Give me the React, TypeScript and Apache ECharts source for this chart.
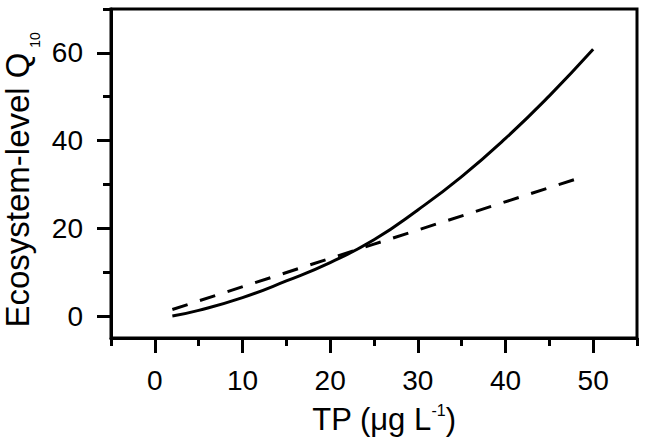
import React, { useEffect, useRef } from "react";
import * as echarts from "echarts";

const xMajorTicks = [0, 10, 20, 30, 40, 50];
const xMinorTicks = [-5, 5, 15, 25, 35, 45, 55];
const yMajorTicks = [0, 20, 40, 60];
const yMinorTicks = [10, 30, 50, 70];

const tpSolid = [2, 5, 10, 15, 20, 25, 30, 35, 40, 45, 50];
const q10Solid = [0, 1.3, 4.2, 8.0, 12.2, 17.4, 24.2, 31.8, 40.5, 50.2, 60.8];

const tpDashed = [2, 25, 48];
const q10Dashed = [1.5, 16.4, 31.2];

const FONT = "Liberation Sans, Arial, Helvetica, sans-serif";

export default function App() {
  const ref = useRef<HTMLDivElement>(null);
  useEffect(() => {
    if (!ref.current) return;
    const chart = echarts.init(ref.current, undefined, { renderer: "svg" });
    const axisLine = { show: true, onZero: false, lineStyle: { color: "#000", width: 3 } };
    const baseX = {
      type: "value" as const,
      min: -5,
      max: 55,
      splitLine: { show: false },
    };
    const baseY = {
      type: "value" as const,
      min: -5,
      max: 70,
      splitLine: { show: false },
    };
    chart.setOption({
      animation: false,
      backgroundColor: "#fff",
      grid: {
        left: 111,
        right: 14,
        top: 9,
        bottom: 102,
        show: true,
        borderColor: "#000",
        borderWidth: 3,
        backgroundColor: "transparent",
      },
      xAxis: [
        {
          ...baseX,
          axisLine,
          axisTick: {
            show: true,
            length: 15,
            customValues: xMajorTicks,
            lineStyle: { color: "#000", width: 3 },
          },
          axisLabel: {
            show: true,
            customValues: xMajorTicks,
            margin: 28,
            fontSize: 28,
            color: "#000",
            fontFamily: FONT,
          },
        },
        {
          ...baseX,
          position: "bottom",
          axisLine: { show: false, onZero: false },
          axisTick: {
            show: true,
            length: 8,
            customValues: xMinorTicks,
            lineStyle: { color: "#000", width: 3 },
          },
          axisLabel: { show: false },
        },
      ],
      yAxis: [
        {
          ...baseY,
          axisLine,
          axisTick: {
            show: true,
            length: 14,
            customValues: yMajorTicks,
            lineStyle: { color: "#000", width: 3 },
          },
          axisLabel: {
            show: true,
            customValues: yMajorTicks,
            margin: 28,
            fontSize: 28,
            color: "#000",
            fontFamily: FONT,
          },
        },
        {
          ...baseY,
          position: "left",
          axisLine: { show: false, onZero: false },
          axisTick: {
            show: true,
            length: 8,
            customValues: yMinorTicks,
            lineStyle: { color: "#000", width: 3 },
          },
          axisLabel: { show: false },
        },
      ],
      graphic: [
        {
          type: "text",
          x: 384,
          y: 419,
          style: {
            text: "{a|TP (μg L}{s|-1}{a|)}",
            align: "center",
            verticalAlign: "middle",
            rich: {
              a: { fontSize: 31, fontFamily: FONT, fill: "#000", lineHeight: 34 },
              s: {
                fontSize: 16,
                fontFamily: FONT,
                fill: "#000",
                lineHeight: 34,
                verticalAlign: "top",
              },
            },
          },
        },
        {
          type: "text",
          x: 17.5,
          y: 190,
          rotation: Math.PI / 2,
          style: {
            text: "Ecosystem-level Q",
            align: "center",
            verticalAlign: "middle",
            fontSize: 33,
            fontFamily: FONT,
            fill: "#000",
          },
        },
        {
          type: "text",
          x: 35,
          y: 40,
          rotation: Math.PI / 2,
          style: {
            text: "10",
            align: "center",
            verticalAlign: "middle",
            fontSize: 14,
            fontFamily: FONT,
            fill: "#000",
          },
        },
      ],
      series: [
        {
          type: "line",
          xAxisIndex: 0,
          yAxisIndex: 0,
          data: tpSolid.map((x, i) => [x, q10Solid[i]]),
          smooth: true,
          showSymbol: false,
          lineStyle: { color: "#000", width: 3 },
        },
        {
          type: "line",
          xAxisIndex: 0,
          yAxisIndex: 0,
          data: tpDashed.map((x, i) => [x, q10Dashed[i]]),
          showSymbol: false,
          lineStyle: { color: "#000", width: 3, type: [16, 13] },
        },
      ],
    });
    return () => chart.dispose();
  }, []);
  return <div ref={ref} style={{ width: 651, height: 440, position: "absolute", left: 0, top: 0 }} />;
}
